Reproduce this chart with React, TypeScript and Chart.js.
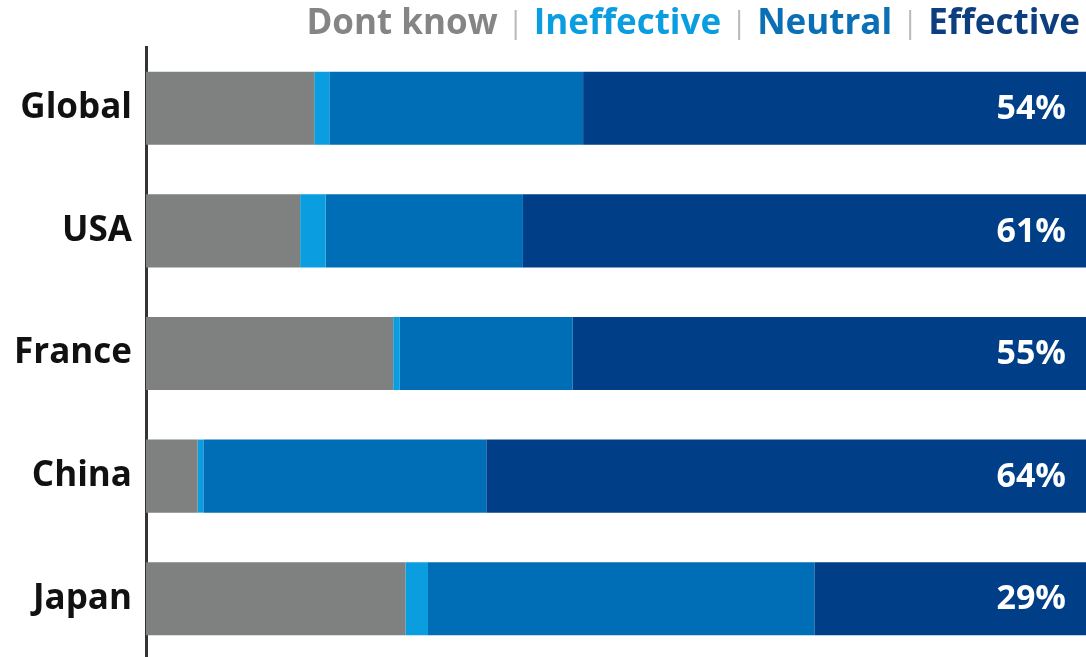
import { useEffect, useRef } from 'react';
import { Chart, registerables } from 'chart.js';

Chart.register(...registerables);

const categories = ['Global', 'USA', 'France', 'China', 'Japan'];
const dontKnow = [17.9, 16.4, 26.3, 5.5, 27.6];
const ineffective = [1.6, 2.7, 0.7, 0.6, 2.4];
const neutral = [27.0, 21.0, 18.4, 30.1, 41.1];
const effective = [53.5, 59.9, 54.6, 63.8, 28.9];
const effectiveLabels = ['54%', '61%', '55%', '64%', '29%'];
const seriesNames = ['Dont know', 'Ineffective', 'Neutral', 'Effective'];

const FONT = '"Open Sans", "Noto Sans", sans-serif';
const barColors = ['#7f8180', '#0a9ee0', '#006eb6', '#003f87'];
const legendColors = ['#858585', '#0a9ee0', '#0a6fb5', '#0d3f80'];

const valueLabelPlugin = {
  id: 'valueLabels',
  afterDatasetsDraw(chart: any) {
    const ctx = chart.ctx;
    const meta = chart.getDatasetMeta(3);
    ctx.save();
    ctx.font = `bold 34px ${FONT}`;
    ctx.fillStyle = '#ffffff';
    ctx.textAlign = 'right';
    ctx.textBaseline = 'middle';
    meta.data.forEach((bar: any, i: number) => {
      ctx.fillText(effectiveLabels[i], chart.chartArea.right - 20, bar.y + 1);
    });
    ctx.restore();
  },
};

const legendPlugin = {
  id: 'customLegend',
  afterDraw(chart: any) {
    const ctx = chart.ctx;
    ctx.save();
    ctx.font = `bold 35px ${FONT}`;
    ctx.textBaseline = 'middle';
    ctx.textAlign = 'left';
    const gap = 17;
    const sepW = 2;
    const widths = seriesNames.map((n) => ctx.measureText(n).width);
    const total = widths.reduce((a, b) => a + b, 0) + (seriesNames.length - 1) * (gap * 2 + sepW);
    let x = 1080 - total;
    const y = 24;
    seriesNames.forEach((n, i) => {
      ctx.fillStyle = legendColors[i];
      ctx.fillText(n, x, y);
      x += widths[i];
      if (i < seriesNames.length - 1) {
        x += gap;
        ctx.fillStyle = '#b8b8b8';
        ctx.fillRect(x, 10, sepW, 30);
        x += sepW + gap;
      }
    });
    ctx.restore();
  },
};

export default function App() {
  const ref = useRef<HTMLCanvasElement>(null);
  useEffect(() => {
    const series = [dontKnow, ineffective, neutral, effective];
    const chart = new Chart(ref.current!, {
      type: 'bar',
      data: {
        labels: categories,
        datasets: series.map((d, i) => ({
          label: seriesNames[i],
          data: d,
          backgroundColor: barColors[i],
          borderWidth: 0,
          barPercentage: 0.596,
          categoryPercentage: 1,
        })),
      },
      options: {
        indexAxis: 'y',
        responsive: false,
        animation: false,
        layout: { padding: { top: 47, right: 0, bottom: 0, left: 0 } },
        scales: {
          x: { stacked: true, min: 0, max: 100, display: false },
          y: {
            stacked: true,
            grid: { display: false, drawTicks: false },
            border: { display: true, color: '#333333', width: 3 },
            ticks: { color: '#111111', font: { family: FONT, size: 35, weight: 'bold' }, padding: 14 },
            afterFit: (s: any) => {
              s.width = 146;
              s.paddingTop = 0;
              s.paddingBottom = 0;
            },
          },
        },
        plugins: { legend: { display: false }, tooltip: { enabled: false } },
      } as any,
      plugins: [valueLabelPlugin, legendPlugin],
    });
    return () => chart.destroy();
  }, []);
  return (
    <div style={{ position: 'fixed', left: 0, top: 0, width: 1086, height: 657, overflow: 'hidden', background: '#fff' }}>
      <canvas ref={ref} width={1086} height={660} style={{ display: 'block' }} />
    </div>
  );
}
